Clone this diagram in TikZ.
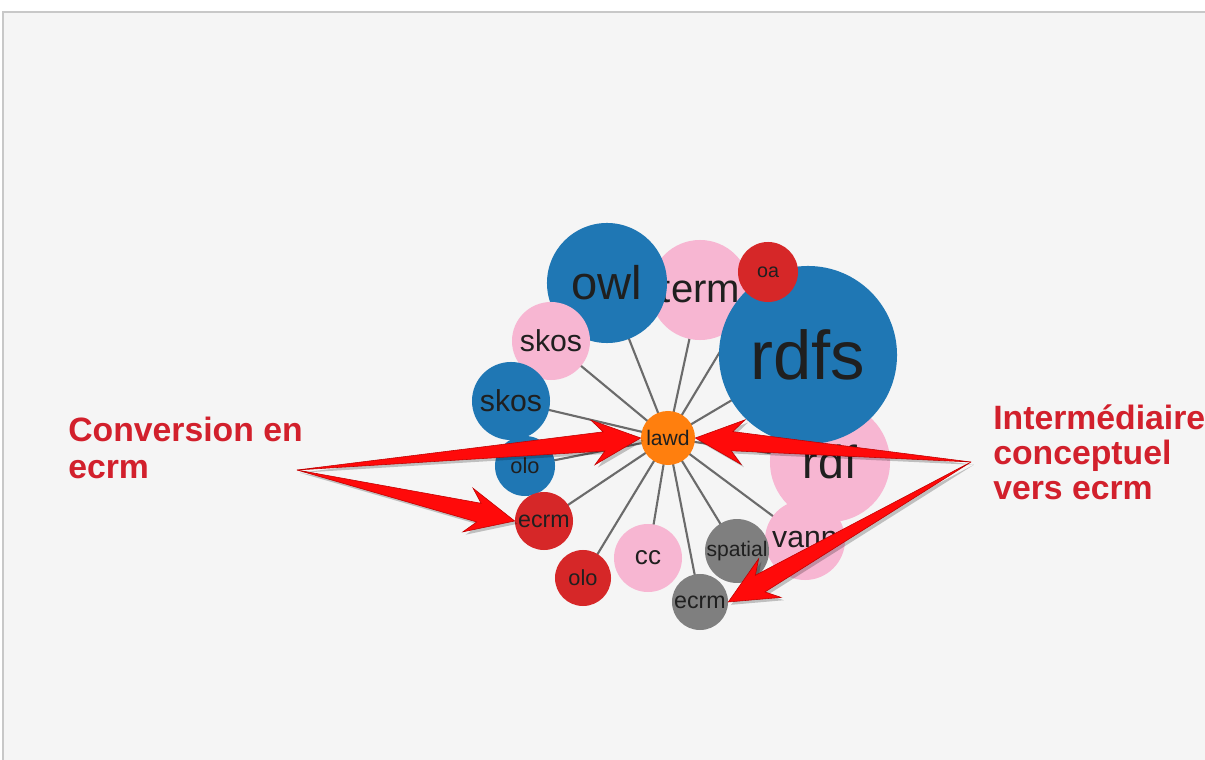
\documentclass[tikz,border=0pt]{standalone}
\usepackage{fontspec}
\setmainfont{Liberation Sans}
\usetikzlibrary{calc}

\pgfdeclarelayer{frame}
\pgfdeclarelayer{links}
\pgfsetlayers{frame,links,main}

\definecolor{d3blue}{HTML}{1F77B4}
\definecolor{d3pink}{HTML}{F7B6D2}
\definecolor{d3red}{HTML}{D62728}
\definecolor{d3gray}{HTML}{7F7F7F}
\definecolor{d3orange}{HTML}{FF7F0E}
\definecolor{pane}{HTML}{F5F5F5}
\definecolor{paneline}{HTML}{C8C8C8}
\definecolor{linkgray}{HTML}{6B6B6B}
\definecolor{callred}{HTML}{FF0A0A}
\definecolor{calltext}{HTML}{D2202C}

\newcommand\fsz[1]{\fontsize{#1}{#1}\selectfont}

% tapered callout arrow: [style] tail, tip
\newcommand\callarrow[3][]{%
  \path ($(#3)!1.2cm!(#2)$) coordinate (hb)
        ($(#3)!0.92cm!(#2)$) coordinate (hs);
  \filldraw[#1] (#2) -- ($(hs)!0.24cm!90:(#3)$) -- ($(hb)!0.56cm!90:(#3)$)
    -- (#3) -- ($(hb)!0.56cm!-90:(#3)$) -- ($(hs)!0.24cm!-90:(#3)$) -- cycle;
}

\tikzset{
  bub/.style={circle, inner sep=0pt, minimum size=#1*0.05cm, text=black!88},
  link/.style={draw=linkgray, line width=1.5pt},
  call/.style={font=\fontsize{24}{#1}\selectfont\bfseries, text=calltext,
    align=left, anchor=north west, inner sep=0pt},
  callarrow/.style={fill=callred, draw=red!75!black, line width=0.4pt},
  callshade/.style={fill=black, draw=none, opacity=0.22},
}

\begin{document}
\begin{tikzpicture}[x=0.025cm, y=-0.025cm]
  \useasboundingbox (0,0) rectangle (1205,760);
  \begin{pgfonlayer}{frame}
    \fill[white] (0,0) rectangle (1205,760);
    \fill[pane] (3,12) rectangle (1205,760);
    \draw[paneline, line width=1.5pt] (3,760) -- (3,12) -- (1205,12);
  \end{pgfonlayer}

  % bubbles, back to front
  \node[bub=50, fill=d3pink, font=\fsz{28.5}] (term) at (700,290) {term};
  \node[bub=60, fill=d3blue, font=\fsz{33.5}] (owl) at (607,283) {owl};
  \node[bub=39, fill=d3pink, font=\fsz{21.5}] (skosP) at (551,341) {skos};
  \node[bub=39, fill=d3blue, font=\fsz{21.5}] (skosB) at (511,401) {skos};
  \node[bub=30, fill=d3blue, font=\fsz{15.5}] (oloB) at (525,466) {olo};
  \node[bub=29, fill=d3red, font=\fsz{16.5}] (ecrmR) at (544,521) {ecrm};
  \node[bub=28, fill=d3red, font=\fsz{15.5}] (oloR) at (583,578) {olo};
  \node[bub=34, fill=d3pink, font=\fsz{18.5}] (cc) at (648,558) {cc};
  \node[bub=60, fill=d3pink, font=\fsz{33}] (rdf) at (830,462) {rdf};
  \node[bub=40, fill=d3pink, font=\fsz{21.5}] (vann) at (805,540) {vann};
  \node[bub=28, fill=d3gray, font=\fsz{15}] (spatial) at (737,551) {spatial};
  \node[bub=28, fill=d3gray, font=\fsz{16.5}] (ecrmG) at (700,602) {ecrm};
  \node[bub=89, fill=d3blue, font=\fsz{49}] (rdfs) at (808,355) {rdfs};
  \node[bub=30, fill=d3red, font=\fsz{14}] (oa) at (768,272) {oa};
  \node[bub=27, fill=d3orange, font=\fsz{15}] (lawd) at (668,438) {lawd};

  \begin{pgfonlayer}{links}
    \foreach \n in {term,owl,skosP,skosB,oloB,ecrmR,oloR,cc,rdf,vann,spatial,ecrmG,rdfs,oa}
      \draw[link] (lawd.center) -- (\n.center);
  \end{pgfonlayer}

  % callouts
  \coordinate (convtail) at (297,470);
  \coordinate (intertail) at (971,462);
  \begin{scope}[transform canvas={xshift=2pt, yshift=-2pt}]
    \callarrow[callshade]{convtail}{lawd.west}
    \callarrow[callshade]{convtail}{ecrmR.west}
    \callarrow[callshade]{intertail}{lawd.east}
    \callarrow[callshade]{intertail}{ecrmG.east}
  \end{scope}
  \callarrow[callarrow]{convtail}{lawd.west}
  \callarrow[callarrow]{convtail}{ecrmR.west}
  \callarrow[callarrow]{intertail}{lawd.east}
  \callarrow[callarrow]{intertail}{ecrmG.east}

  \node[call=26.5] (convlabel) at (68,417) {Conversion en\\ecrm};
  \node[call=25] (interlabel) at (993,404) {Intermédiaire\\conceptuel\\vers ecrm};
\end{tikzpicture}
\end{document}
